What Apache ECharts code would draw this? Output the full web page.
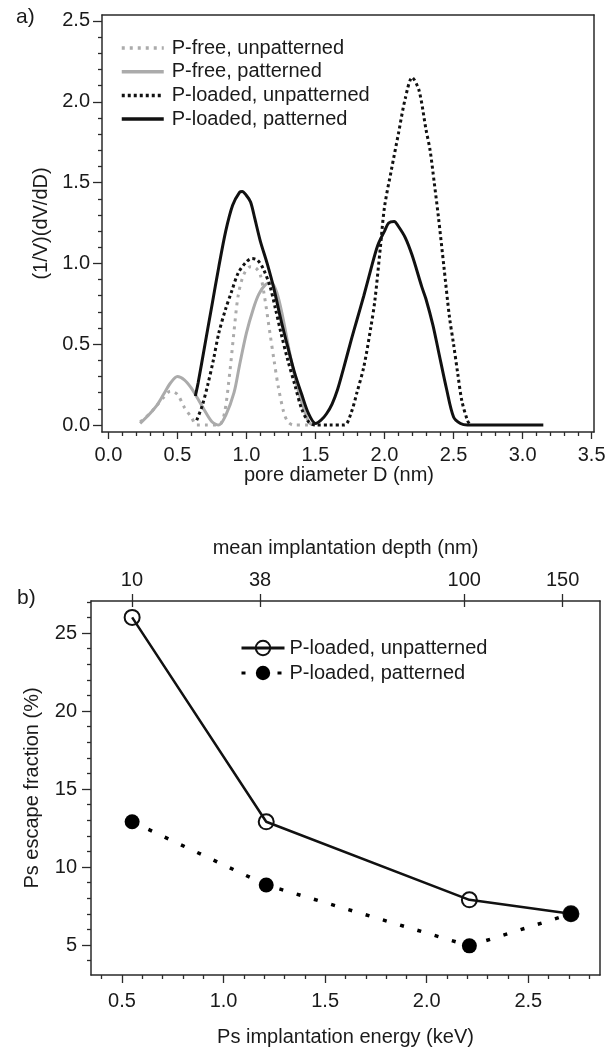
<!DOCTYPE html>
<html><head><meta charset="utf-8">
<script src="https://cdn.jsdelivr.net/npm/echarts@6/dist/echarts.min.js"></script>
<style>html,body{margin:0;padding:0;background:#fff}#c{width:612px;height:1052px}</style>
</head><body><div id="c"></div>
<script>
// ---------- Panel a) pore size distributions ----------
const aXTicks = [0, 0.5, 1, 1.5, 2, 2.5, 3, 3.5];
const aYTicks = [0, 0.5, 1, 1.5, 2, 2.5];
const aNames = ['P-free, unpatterned', 'P-free, patterned', 'P-loaded, unpatterned', 'P-loaded, patterned'];
const pFreeUnpatterned = [[0.23,0.02],[0.30,0.07],[0.35,0.12],[0.40,0.17],[0.45,0.21],[0.50,0.19],[0.55,0.11],[0.60,0.05],[0.64,0.0],[0.70,0.0],[0.80,0.0],[0.84,0.07],[0.88,0.33],[0.91,0.58],[0.94,0.80],[0.98,0.93],[1.03,0.98],[1.07,0.97],[1.10,0.93],[1.13,0.80],[1.17,0.57],[1.20,0.40],[1.23,0.24],[1.27,0.08],[1.30,0.02],[1.34,0.0],[1.45,0.0]];
const pFreePatterned = [[0.23,0.01],[0.30,0.07],[0.35,0.12],[0.40,0.19],[0.45,0.26],[0.50,0.30],[0.55,0.28],[0.60,0.23],[0.65,0.16],[0.69,0.10],[0.75,0.02],[0.80,0.0],[0.85,0.06],[0.91,0.20],[0.95,0.37],[1.00,0.57],[1.05,0.72],[1.09,0.81],[1.14,0.87],[1.18,0.88],[1.22,0.82],[1.26,0.68],[1.31,0.46],[1.35,0.30],[1.40,0.14],[1.45,0.02],[1.48,0.0]];
const pLoadedUnpatterned = [[0.64,0.03],[0.68,0.12],[0.72,0.25],[0.76,0.40],[0.80,0.57],[0.85,0.72],[0.89,0.82],[0.94,0.94],[1.00,1.01],[1.04,1.03],[1.08,1.02],[1.12,0.97],[1.17,0.86],[1.21,0.72],[1.25,0.57],[1.30,0.40],[1.35,0.25],[1.40,0.10],[1.45,0.02],[1.50,0.0],[1.60,0.0],[1.71,0.0],[1.76,0.08],[1.80,0.20],[1.85,0.36],[1.90,0.60],[1.93,0.77],[1.97,1.10],[2.00,1.35],[2.05,1.58],[2.10,1.80],[2.15,2.02],[2.20,2.15],[2.25,2.07],[2.30,1.83],[2.33,1.70],[2.36,1.50],[2.39,1.29],[2.43,0.98],[2.47,0.67],[2.50,0.50],[2.53,0.32],[2.56,0.15],[2.60,0.03],[2.62,0.0]];
const pLoadedPatterned = [[0.63,0.18],[0.65,0.26],[0.70,0.50],[0.75,0.74],[0.80,0.98],[0.85,1.20],[0.90,1.36],[0.95,1.44],[0.97,1.445],[1.00,1.42],[1.03,1.38],[1.06,1.28],[1.10,1.14],[1.15,1.00],[1.20,0.84],[1.25,0.65],[1.30,0.48],[1.35,0.32],[1.40,0.19],[1.45,0.07],[1.50,0.01],[1.54,0.03],[1.58,0.07],[1.62,0.13],[1.66,0.22],[1.70,0.34],[1.76,0.53],[1.80,0.65],[1.85,0.80],[1.90,0.96],[1.95,1.11],[2.00,1.20],[2.03,1.25],[2.07,1.26],[2.10,1.23],[2.15,1.16],[2.20,1.05],[2.27,0.855],[2.30,0.78],[2.35,0.62],[2.39,0.46],[2.45,0.22],[2.50,0.05],[2.55,0.01],[2.60,0.0],[2.80,0.0],[3.00,0.0],[3.15,0.0]];

// ---------- Panel b) Ps escape fraction ----------
const bXTicks = [0.5, 1.0, 1.5, 2.0, 2.5];
const bYTicks = [5, 10, 15, 20, 25];
const depthLabels = ['10', '38', '100', '150'];
const depthEnergies = [0.549, 1.18, 2.185, 2.669];
const bNames = ['P-loaded, unpatterned ', 'P-loaded, patterned '];
const bUnpatterned = [[0.55, 26.0], [1.21, 12.9], [2.21, 7.9], [2.71, 7.0]];
const bPatterned = [[0.55, 12.9], [1.21, 8.85], [2.21, 4.95], [2.71, 7.0]];

function minorTicks(lo, hi, step, majors) {
  const out = [];
  const n = Math.round((hi - lo) / step);
  for (let i = 0; i <= n; i++) {
    const v = +(lo + i * step).toFixed(4);
    if (!majors.some(m => Math.abs(m - v) < 1e-6)) out.push(v);
  }
  return out;
}

const FONT = 'Liberation Sans';
const AX = '#2a2a2a';
const TXT = '#1a1a1a';
const GRAY = '#ababab';

function frameAxis(gridIndex, position) {
  return { type: 'value', gridIndex, position,
    axisLine: { show: true, onZero: false, lineStyle: { color: AX, width: 1.5 } },
    axisTick: { show: false }, axisLabel: { show: false }, splitLine: { show: false } };
}
function tickAxis(gridIndex, position, min, max, values, len, inside, label, extra) {
  const ax = { type: 'value', gridIndex, position, min, max,
    axisLine: { show: !!(extra && extra.line), onZero: false, lineStyle: { color: AX, width: 1.5 } },
    axisTick: { show: true, inside: !!inside, length: len, customValues: values, lineStyle: { color: AX, width: 1.3 } },
    axisLabel: label ? Object.assign({ show: true, customValues: values, fontFamily: FONT, fontSize: 20, color: TXT }, label) : { show: false },
    splitLine: { show: false } };
  if (extra) Object.assign(ax, extra.props || {});
  return ax;
}

const aXMin = -0.046, aXMax = 3.517, aYMin = -0.043, aYMax = 2.537;
const bXMin = 0.3475, bXMax = 2.853, bYMin = 3.08, bYMax = 27.05;

const nameStyle = { fontFamily: FONT, fontSize: 20, color: TXT };

const option = {
  animation: false,
  backgroundColor: '#fff',
  title: [
    { text: 'a)', left: 11, top: 2, textStyle: { fontFamily: FONT, fontSize: 21, fontWeight: 'normal', color: TXT } },
    { text: 'b)', left: 12, top: 583, textStyle: { fontFamily: FONT, fontSize: 21, fontWeight: 'normal', color: TXT } }
  ],
  grid: [
    { left: 102, top: 15, width: 492, height: 417 },
    { left: 91, top: 601, width: 509, height: 374 }
  ],
  legend: [
    { data: aNames, orient: 'vertical', left: 115, top: 33, itemWidth: 42, itemHeight: 14, itemGap: 3.7,
      selectedMode: false, lineStyle: { width: 3.5 },
      itemStyle: { color: 'rgba(0,0,0,0)', borderColor: 'rgba(0,0,0,0)', borderWidth: 0 },
      textStyle: { fontFamily: FONT, fontSize: 20, lineHeight: 20, color: TXT, padding: [0, 0, 0, 3] } },
    { data: bNames, orient: 'vertical', left: 235, top: 633, itemWidth: 43, itemHeight: 18, itemGap: 5,
      selectedMode: false, lineStyle: { width: 3 }, formatter: n => n.trim(),
      textStyle: { fontFamily: FONT, fontSize: 20, lineHeight: 20, color: TXT } }
  ],
  xAxis: [
    tickAxis(0, 'bottom', aXMin, aXMax, aXTicks, 7, false,
      { margin: 13, formatter: v => v.toFixed(1) },
      { line: true, props: { name: 'pore diameter D (nm)', nameLocation: 'middle', nameGap: 33,
        nameTextStyle: Object.assign({ padding: [0, 18, 0, 0] }, nameStyle) } }),
    tickAxis(0, 'bottom', aXMin, aXMax, minorTicks(0, 3.5, 0.1, aXTicks), 4, false, null),
    Object.assign(frameAxis(0, 'top'), { min: aXMin, max: aXMax }),
    tickAxis(1, 'bottom', bXMin, bXMax, bXTicks, 8, false,
      { margin: 16, formatter: v => v.toFixed(1) },
      { line: true, props: { name: 'Ps implantation energy (keV)', nameLocation: 'middle', nameGap: 52, nameTextStyle: nameStyle } }),
    tickAxis(1, 'bottom', bXMin, bXMax, minorTicks(0.4, 2.8, 0.1, bXTicks), 4, false, null),
    tickAxis(1, 'top', bXMin, bXMax, depthEnergies, 7, false,
      { margin: 11, formatter: v => depthLabels[depthEnergies.findIndex(e => Math.abs(e - v) < 1e-6)] },
      { line: true, props: { name: 'mean implantation depth (nm)', nameLocation: 'middle', nameGap: 43, nameTextStyle: nameStyle } }),
    tickAxis(1, 'top', bXMin, bXMax, depthEnergies, 6, true, null)
  ],
  yAxis: [
    tickAxis(0, 'left', aYMin, aYMax, aYTicks, 9, false,
      { margin: 12, formatter: v => v.toFixed(1) },
      { line: true, props: { name: '(1/V)(dV/dD)', nameLocation: 'middle', nameGap: 44, nameRotate: 90, nameTextStyle: nameStyle } }),
    tickAxis(0, 'left', aYMin, aYMax, minorTicks(0, 2.5, 0.1, aYTicks), 4, false, null),
    Object.assign(frameAxis(0, 'right'), { min: aYMin, max: aYMax }),
    tickAxis(1, 'left', bYMin, bYMax, bYTicks, 9, false,
      { margin: 14, formatter: v => String(v) },
      { line: true, props: { name: 'Ps escape fraction (%)', nameLocation: 'middle', nameGap: 49, nameRotate: 90, nameTextStyle: nameStyle } }),
    tickAxis(1, 'left', bYMin, bYMax, minorTicks(4, 27, 1, bYTicks), 4, false, null),
    Object.assign(frameAxis(1, 'right'), { min: bYMin, max: bYMax })
  ],
  series: [
    { name: aNames[0], type: 'line', xAxisIndex: 0, yAxisIndex: 0, data: pFreeUnpatterned, symbol: 'none', smooth: 0.3,
      lineStyle: { color: GRAY, width: 3, type: [3, 5], cap: 'butt' }, itemStyle: { color: GRAY }, z: 2 },
    { name: aNames[1], type: 'line', xAxisIndex: 0, yAxisIndex: 0, data: pFreePatterned, symbol: 'none', smooth: 0.3,
      lineStyle: { color: GRAY, width: 3 }, itemStyle: { color: GRAY }, z: 2 },
    { name: aNames[2], type: 'line', xAxisIndex: 0, yAxisIndex: 0, data: pLoadedUnpatterned, symbol: 'none', smooth: 0.3,
      lineStyle: { color: '#111', width: 3, type: [3, 3], cap: 'butt' }, itemStyle: { color: '#111' }, z: 3 },
    { name: aNames[3], type: 'line', xAxisIndex: 0, yAxisIndex: 0, data: pLoadedPatterned, symbol: 'none', smooth: 0.3,
      lineStyle: { color: '#111', width: 3 }, itemStyle: { color: '#111' }, z: 3 },
    { name: bNames[0], type: 'line', xAxisIndex: 3, yAxisIndex: 3, data: bUnpatterned, symbol: 'circle', symbolSize: 15,
      lineStyle: { color: '#111', width: 2.5 }, itemStyle: { color: 'rgba(255,255,255,0)', borderColor: '#111', borderWidth: 2 }, z: 2 },
    { name: bNames[1], type: 'line', xAxisIndex: 3, yAxisIndex: 3, data: bPatterned, symbol: 'circle', symbolSize: 15,
      lineStyle: { color: '#000', width: 3.5, type: [4, 14], cap: 'butt' }, itemStyle: { color: '#000' }, z: 3 }
  ]
};
const chart = echarts.init(document.getElementById('c'), null, { renderer: 'canvas' });
chart.setOption(option);
</script></body></html>
